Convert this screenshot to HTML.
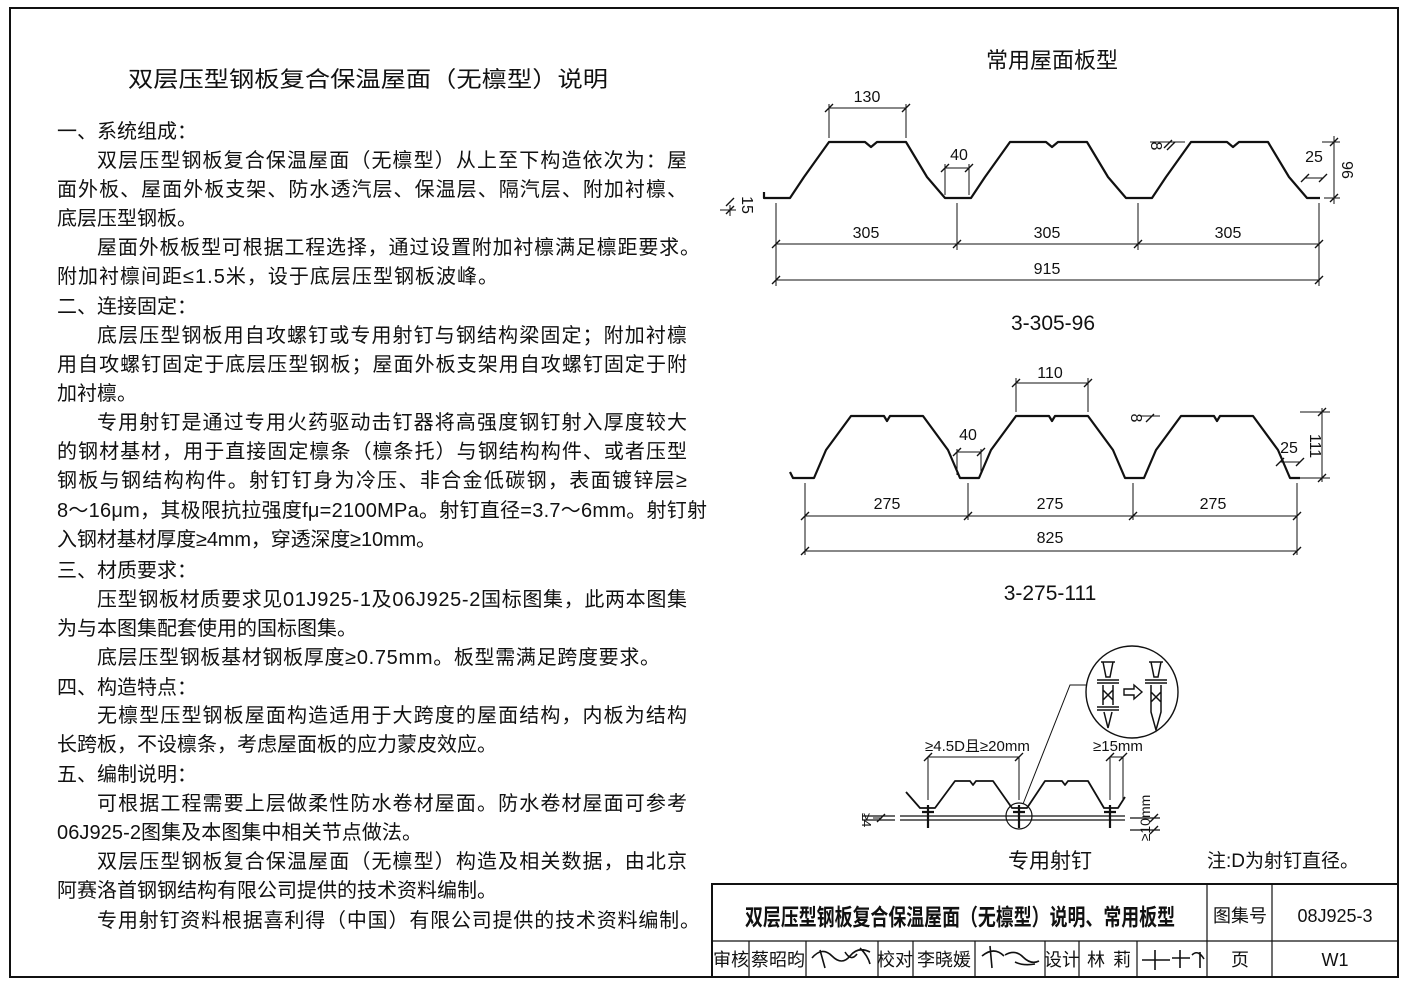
<!DOCTYPE html>
<html><head><meta charset="utf-8"><style>
html,body{margin:0;padding:0;background:#fff}
svg{display:block}
text{font-family:"Liberation Sans","Noto Sans CJK SC",sans-serif;fill:#111}
</style></head><body>
<svg width="1408" height="983" viewBox="0 0 1408 983" xmlns="http://www.w3.org/2000/svg">
<rect x="10" y="8" width="1388" height="969" fill="none" stroke="#111" stroke-width="2"/>

<!-- left text -->
<g font-size="20">
<text x="128" y="87" font-size="22" textLength="480" lengthAdjust="spacingAndGlyphs">双层压型钢板复合保温屋面（无檩型）说明</text>
<text x="57" y="138">一、系统组成：</text>
<text x="97" y="167" textLength="590">双层压型钢板复合保温屋面（无檩型）从上至下构造依次为：屋</text>
<text x="57" y="196" textLength="630">面外板、屋面外板支架、防水透汽层、保温层、隔汽层、附加衬檩、</text>
<text x="57" y="225">底层压型钢板。</text>
<text x="97" y="254" textLength="603">屋面外板板型可根据工程选择，通过设置附加衬檩满足檩距要求。</text>
<text x="57" y="283" textLength="441">附加衬檩间距≤1.5米，设于底层压型钢板波峰。</text>
<text x="57" y="313">二、连接固定：</text>
<text x="97" y="342" textLength="590">底层压型钢板用自攻螺钉或专用射钉与钢结构梁固定；附加衬檩</text>
<text x="57" y="371" textLength="630">用自攻螺钉固定于底层压型钢板；屋面外板支架用自攻螺钉固定于附</text>
<text x="57" y="400">加衬檩。</text>
<text x="97" y="429" textLength="590">专用射钉是通过专用火药驱动击钉器将高强度钢钉射入厚度较大</text>
<text x="57" y="458" textLength="630">的钢材基材，用于直接固定檩条（檩条托）与钢结构构件、或者压型</text>
<text x="57" y="487" textLength="630">钢板与钢结构构件。射钉钉身为冷压、非合金低碳钢，表面镀锌层≥</text>
<text x="57" y="517" textLength="650">8～16μm，其极限抗拉强度fμ=2100MPa。射钉直径=3.7～6mm。射钉射</text>
<text x="57" y="546" textLength="379">入钢材基材厚度≥4mm，穿透深度≥10mm。</text>
<text x="57" y="577">三、材质要求：</text>
<text x="97" y="606" textLength="590">压型钢板材质要求见01J925-1及06J925-2国标图集，此两本图集</text>
<text x="57" y="635">为与本图集配套使用的国标图集。</text>
<text x="97" y="664" textLength="563">底层压型钢板基材钢板厚度≥0.75mm。板型需满足跨度要求。</text>
<text x="57" y="694">四、构造特点：</text>
<text x="97" y="722" textLength="590">无檩型压型钢板屋面构造适用于大跨度的屋面结构，内板为结构</text>
<text x="57" y="751">长跨板，不设檩条，考虑屋面板的应力蒙皮效应。</text>
<text x="57" y="781">五、编制说明：</text>
<text x="97" y="810" textLength="590">可根据工程需要上层做柔性防水卷材屋面。防水卷材屋面可参考</text>
<text x="57" y="839" textLength="365">06J925-2图集及本图集中相关节点做法。</text>
<text x="97" y="868" textLength="590">双层压型钢板复合保温屋面（无檩型）构造及相关数据，由北京</text>
<text x="57" y="897">阿赛洛首钢钢结构有限公司提供的技术资料编制。</text>
<text x="97" y="927" textLength="603">专用射钉资料根据喜利得（中国）有限公司提供的技术资料编制。</text>
</g>

<!-- right labels -->
<text x="1052" y="68" font-size="22" text-anchor="middle">常用屋面板型</text>
<text x="1053" y="330" font-size="21" text-anchor="middle">3-305-96</text>
<text x="1050" y="600" font-size="21" text-anchor="middle">3-275-111</text>
<text x="1050" y="868" font-size="21" text-anchor="middle">专用射钉</text>
<text x="1207" y="867" font-size="19">注:D为射钉直径。</text>

<g fill="none" stroke="#111">
<!-- profile 1 -->
<path stroke-width="2.2" stroke-linejoin="round" d="M764,192 L764,198 L790,198 L804,177 L829,142 L865,142 L871,147 L877,142 L906,142 L927,177 L945,198 L971,198 L985,177 L1010,142 L1046,142 L1052,147 L1058,142 L1087,142 L1108,177 L1126,198 L1152,198 L1166,177 L1191,142 L1227,142 L1233,147 L1239,142 L1268,142 L1289,177 L1307,198 L1320,198"/>
<g stroke-width="1">
<path d="M776,203 V286 M957,203 V250 M1138,203 V250 M1319,203 V286 M776,244 H1319 M776,280 H1319"/>
<path d="M829,138 V104 M906,138 V104 M829,108 H906 M945,195 V164 M969,195 V164 M945,168 H969"/>
<path d="M1322,142 H1340 M1324,198 H1340 M1334,136 V204 M1305,178 H1323 M1150,142 H1185"/>
<path d="M730,205 V216 M720,210 H736"/>
</g>
<g stroke-width="1.4">
<path d="M772,248 l8,-8 M953,248 l8,-8 M1134,248 l8,-8 M1315,248 l8,-8 M772,284 l8,-8 M1315,284 l8,-8 M825,112 l8,-8 M902,112 l8,-8 M941,172 l8,-8 M965,172 l8,-8 M1301,182 l8,-8 M1319,182 l8,-8 M1330,146 l8,-8 M1330,202 l8,-8 M1164,148 l8,-8 M1167,150 l8,-8 M726,214 l8,-8 M726,206 l8,-8"/>
</g>

<!-- profile 2 -->
<path stroke-width="2.2" stroke-linejoin="round" d="M790,472 L793,478 L814,478 L826,450 L851,416 L884,416 L887,421 L890,416 L923,416 L948,450 L960,478 L979,478 L991,450 L1016,416 L1049,416 L1052,421 L1055,416 L1088,416 L1113,450 L1125,478 L1144,478 L1156,450 L1181,416 L1214,416 L1217,421 L1220,416 L1253,416 L1278,450 L1290,478 L1300,478"/>
<g stroke-width="1">
<path d="M805,483 V555 M968,483 V520 M1133,483 V520 M1297,483 V555 M805,516 H1297 M805,551 H1297"/>
<path d="M1016,412 V378 M1088,412 V378 M1016,383 H1088 M957,475 V449 M981,475 V449 M957,452 H981"/>
<path d="M1300,412 H1330 M1300,478 H1330 M1322,408 V482 M1280,462 H1300 M1140,416 H1160"/>
</g>
<g stroke-width="1.4">
<path d="M801,520 l8,-8 M964,520 l8,-8 M1129,520 l8,-8 M1293,520 l8,-8 M801,555 l8,-8 M1293,555 l8,-8 M1012,387 l8,-8 M1084,387 l8,-8 M953,456 l8,-8 M977,456 l8,-8 M1318,416 l8,-8 M1318,482 l8,-8 M1276,466 l8,-8 M1296,466 l8,-8 M1146,422 l8,-8"/>
</g>

<!-- shot nail diagram -->
<path stroke-width="1.8" stroke-linejoin="round" d="M906,792 L920,808 L935,808 L955,781 L970,781 L973,785 L976,781 L993,781 L1012,808 L1027,808 L1045,781 L1062,781 L1065,785 L1068,781 L1088,781 L1104,808 L1118,808 L1125,797"/>
<path stroke-width="1.2" d="M900,816 H1125 M900,820 H1125 M862,816 H895 M862,820 H895 M1130,818 H1160 M1130,830 H1160"/>
<path stroke-width="2.2" d="M928,805 V828 M1019,805 V828 M1110,805 V828 M922,812 H934 M1013,812 H1025 M1104,812 H1116"/>
<circle cx="1019" cy="816" r="13" stroke-width="1.2"/>
<path stroke-width="1" d="M1023,804 L1070,685 H1087 M928,800 V757 M1019,800 V757 M928,757 H1019 M1110,800 V757 M1123,800 V757 M1110,757 H1123 M873,818 H882"/>
<path stroke-width="1.4" d="M924,761 l8,-8 M1015,761 l8,-8 M1106,761 l8,-8 M1119,761 l8,-8 M1150,822 l8,-8 M1150,834 l8,-8 M877,822 l8,-8"/>
<circle cx="1132" cy="692" r="46" stroke-width="1.4"/>
<!-- nail 1 -->
<path stroke-width="1.5" d="M1101,662 H1115 M1103,662 L1106,677 H1110 L1113,662 M1097,680 H1119 M1097,683 H1119 M1103,685 V705 M1113,685 V705 M1103,690 L1113,700 M1113,690 L1103,700 M1097,707 H1119 M1097,710 H1119 M1104,712 L1108,728 L1112,712"/>
<!-- arrow -->
<path stroke-width="1.4" d="M1124,689 H1134 V685 L1142,692 L1134,699 V695 H1124 Z"/>
<!-- nail 2 -->
<path stroke-width="1.5" d="M1149,662 H1163 M1151,662 L1154,677 H1158 L1161,662 M1145,680 H1167 M1145,683 H1167 M1151,685 V712 L1156,730 L1161,712 V685 M1151,692 L1161,702 M1161,692 L1151,702"/>
</g>
<g font-size="16">
<text x="867" y="102" text-anchor="middle">130</text>
<text x="959" y="160" text-anchor="middle">40</text>
<text x="866" y="238" text-anchor="middle">305</text>
<text x="1047" y="238" text-anchor="middle">305</text>
<text x="1228" y="238" text-anchor="middle">305</text>
<text x="1047" y="274" text-anchor="middle">915</text>
<text x="1314" y="162" text-anchor="middle">25</text>
<text transform="translate(1342,170) rotate(90)" text-anchor="middle">96</text>
<text transform="translate(1151,146) rotate(90)" text-anchor="middle">8</text>
<text transform="translate(742,205) rotate(90)" text-anchor="middle">15</text>
<text x="1050" y="378" text-anchor="middle">110</text>
<text x="968" y="440" text-anchor="middle">40</text>
<text x="887" y="509" text-anchor="middle">275</text>
<text x="1050" y="509" text-anchor="middle">275</text>
<text x="1213" y="509" text-anchor="middle">275</text>
<text x="1050" y="543" text-anchor="middle">825</text>
<text x="1289" y="453" text-anchor="middle">25</text>
<text transform="translate(1310,446) rotate(90)" text-anchor="middle">111</text>
<text transform="translate(1131,418) rotate(90)" text-anchor="middle">8</text>
<text x="925" y="751" font-size="15">≥4.5D且≥20mm</text>
<text x="1093" y="751" font-size="15">≥15mm</text>
<text transform="translate(1150,818) rotate(-90)" font-size="14" text-anchor="middle">≥10mm</text>
<text transform="translate(862,820) rotate(90)" font-size="13" text-anchor="middle">≥4</text>
</g>

<!-- title block -->
<g fill="none" stroke="#111">
<rect x="712" y="884" width="686" height="93" stroke-width="2"/>
<path stroke-width="1.2" d="M712,941 H1398 M1207,884 V977 M1272,884 V977 M749,941 V977 M806,941 V977 M878,941 V977 M913,941 V977 M975,941 V977 M1045,941 V977 M1079,941 V977 M1137,941 V977"/>
</g>
<text x="960" y="925" font-size="23" font-weight="bold" text-anchor="middle" textLength="430" lengthAdjust="spacingAndGlyphs">双层压型钢板复合保温屋面（无檩型）说明、常用板型</text>
<text x="1240" y="922" font-size="18" text-anchor="middle">图集号</text>
<text x="1335" y="922" font-size="18" text-anchor="middle">08J925-3</text>
<g font-size="18">
<text x="731" y="966" text-anchor="middle">审核</text>
<text x="778" y="966" text-anchor="middle">蔡昭昀</text>
<text x="895" y="966" text-anchor="middle">校对</text>
<text x="944" y="966" text-anchor="middle">李晓媛</text>
<text x="1062" y="966" text-anchor="middle">设计</text>
<text x="1087" y="966">林</text>
<text x="1113" y="966">莉</text>
<text x="1240" y="966" text-anchor="middle">页</text>
<text x="1335" y="966" text-anchor="middle">W1</text>
</g>
<g fill="none" stroke="#111" stroke-width="1.6">
<path d="M812,958 q10,-12 20,-2 t18,0 t20,-4 M820,950 l5,18 M845,952 q6,10 12,2 M860,948 q8,8 10,16"/>
<path d="M982,956 q12,-10 22,0 M990,946 l2,22 M1005,955 q10,-6 18,2 t16,4 M1015,962 q8,4 20,2"/>
<path d="M1142,960 H1170 M1155,950 V970 M1172,958 H1190 M1180,950 V968 M1192,955 q6,-6 12,4 M1200,952 V968"/>
</g>
</svg>
</body></html>
